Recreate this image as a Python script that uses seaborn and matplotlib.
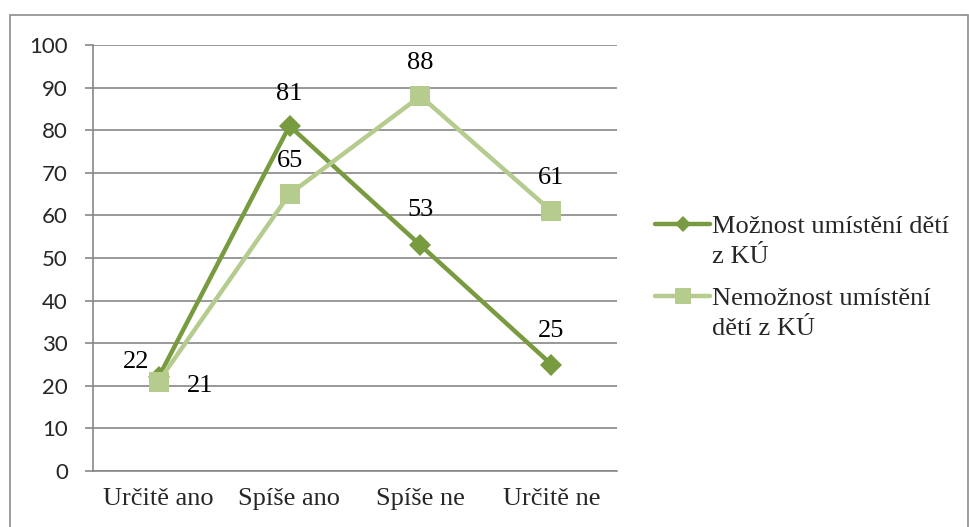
import matplotlib
matplotlib.use('Agg')
import matplotlib.pyplot as plt
import seaborn as sns
import pandas as pd
from matplotlib.patches import Rectangle
from matplotlib.lines import Line2D
from matplotlib.legend_handler import HandlerLine2D

categories = ['Určitě ano', 'Spíše ano', 'Spíše ne', 'Určitě ne']
series_names = ['Možnost umístění dětí z KÚ', 'Nemožnost umístění dětí z KÚ']
legend_labels = ['Možnost umístění dětí\nz KÚ', 'Nemožnost umístění\ndětí z KÚ']
moznost = [22, 81, 53, 25]
nemoznost = [21, 65, 88, 61]
y_ticks = [0, 10, 20, 30, 40, 50, 60, 70, 80, 90, 100]


class RaisedLine(HandlerLine2D):
    # Excel puts the legend key next to the first line of wrapped text
    def create_artists(self, legend, orig_handle, xdescent, ydescent, width, height, fontsize, trans):
        artists = super().create_artists(legend, orig_handle, xdescent, ydescent,
                                         width, height, fontsize, trans)
        for a in artists:
            a.set_ydata([y + 12.5 for y in a.get_ydata()])
        return artists


sns.set_style('white')
plt.rcParams['font.family'] = ['Liberation Serif', 'DejaVu Serif']

df = pd.DataFrame({
    'pos': list(range(len(categories))) * 2,
    'value': moznost + nemoznost,
    'series': [series_names[0]] * len(moznost) + [series_names[1]] * len(nemoznost),
})

fig = plt.figure(figsize=(9.7, 5.27), dpi=100)
ax = fig.add_axes([93 / 970, 1 - 471 / 527, (617 - 93) / 970, (471 - 45) / 527])

# outer chart border (Excel chart area)
fig.patches.append(Rectangle((10 / 970, -0.02), 958 / 970, 1 - 15 / 527 + 0.02,
                             transform=fig.transFigure, fill=False,
                             edgecolor='#8c8c8c', linewidth=1.2))

colors = ['#789B40', '#B5CC8E']
markers = ['D', 's']
msizes = [11.5, 15]
leg_msizes = [8, 11]
# Excel label placement: (dx, dy) in points
offsets = [[(-16, 11), (0, 23), (0, 25), (0, 24)],
           [(30, -3), (0, 24), (0, 24), (0, 24)]]

handles = []
for i, name in enumerate(series_names):
    sub = df[df['series'] == name]
    sns.lineplot(data=sub, x='pos', y='value', color=colors[i], marker=markers[i],
                 markersize=msizes[i], markeredgewidth=0, linewidth=3.2, ax=ax,
                 legend=False, zorder=3 + i)
    handles.append(Line2D([], [], color=colors[i], marker=markers[i],
                          markersize=leg_msizes[i], markeredgewidth=0, linewidth=3.2))
    for j, (x, v) in enumerate(zip(sub['pos'], sub['value'])):
        ax.annotate(str(v), (x, v), xytext=offsets[i][j], textcoords='offset points',
                    ha='center', va='center', fontsize=19, color='black', zorder=6)

ax.set_xlim(-0.5, len(categories) - 0.5)
ax.set_ylim(0, 100)
ax.set_yticks(y_ticks)
ax.set_yticklabels([str(t) for t in y_ticks], family='Lato', fontsize=16)
ax.set_xticks(range(len(categories)))
ax.set_xticklabels(categories, fontsize=19)
ax.set_xticks([k - 0.5 for k in range(len(categories) + 1)], minor=True)
ax.tick_params(axis='x', which='major', length=0, pad=12)
ax.tick_params(axis='x', which='minor', length=5, width=1.2, color='#878787', direction='out')
ax.tick_params(axis='y', length=6, width=1.2, color='#878787', direction='out', pad=12, left=True)
ax.set_xlabel('')
ax.set_ylabel('')
ax.grid(axis='y', color='#878787', linewidth=1.2)
ax.grid(axis='x', visible=False)
ax.set_axisbelow(True)
for s in ['top', 'right']:
    ax.spines[s].set_visible(False)
for s in ['left', 'bottom']:
    ax.spines[s].set_color('#878787')
    ax.spines[s].set_linewidth(1.2)

leg = fig.legend(handles, legend_labels, loc='center left',
                 bbox_to_anchor=(655 / 970, 1 - 278 / 527), frameon=False,
                 fontsize=19, handlelength=2.1, handletextpad=0.05,
                 labelspacing=0.75, borderpad=0, borderaxespad=0,
                 handler_map={Line2D: RaisedLine()})
for t in leg.get_texts():
    t.set_linespacing(1.45)

fig.savefig('out.png', dpi=100)
